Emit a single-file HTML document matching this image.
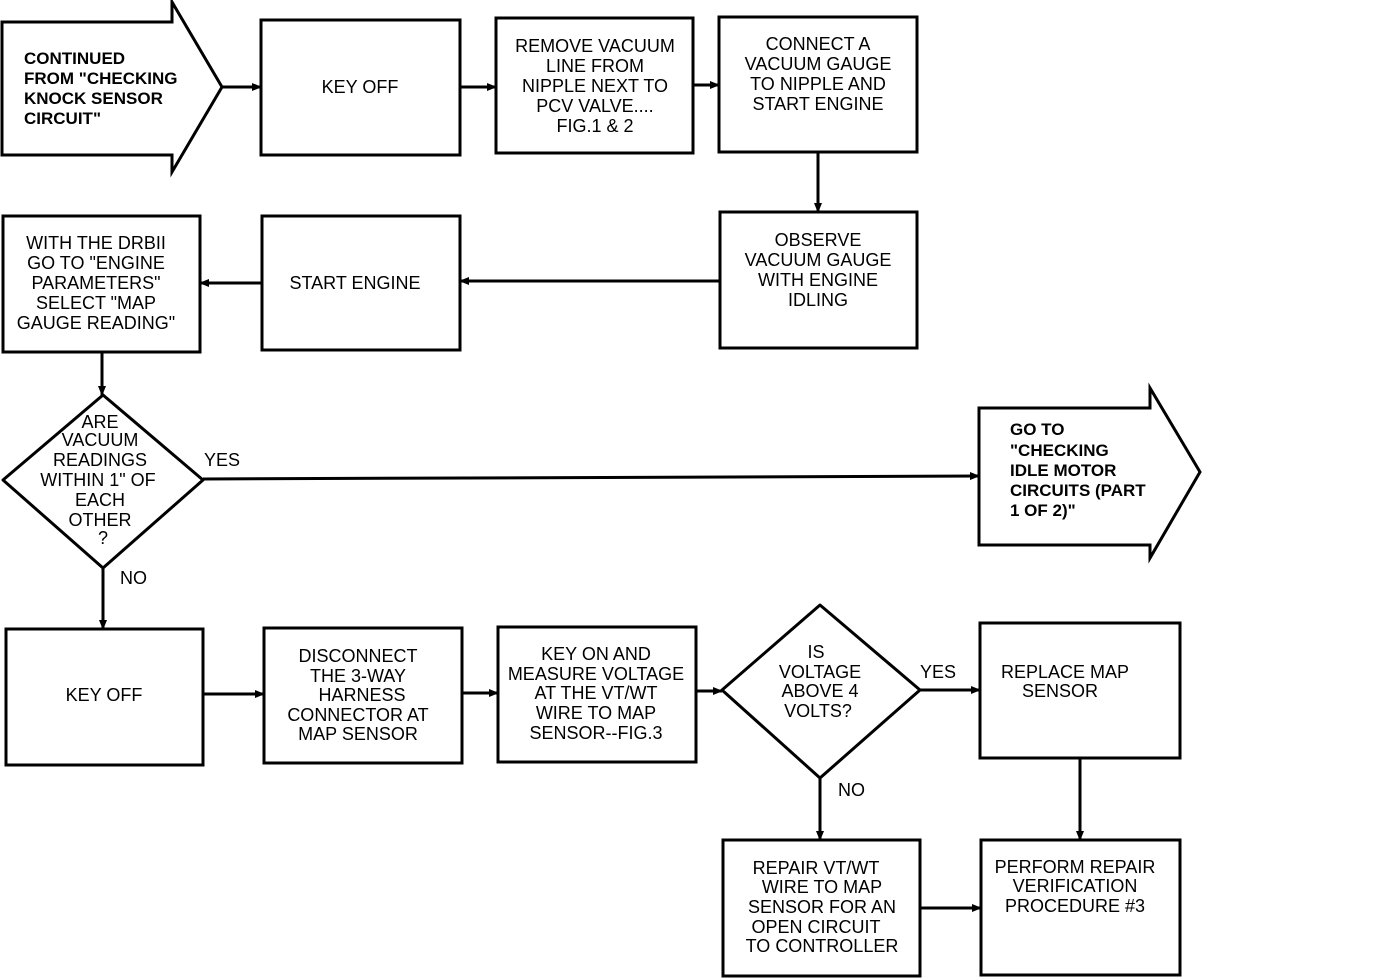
<!DOCTYPE html>
<html><head><meta charset="utf-8"><style>
html,body{margin:0;padding:0;background:#fff}
svg{display:block}
text{font-family:"Liberation Sans",sans-serif;font-size:18px;fill:#000}
.c{text-anchor:middle;font-family:"Liberation Sans",sans-serif;font-size:19px;transform-box:fill-box}
.b{font-weight:bold;font-size:17px}
</style></head><body>
<svg width="1392" height="980" viewBox="0 0 1392 980" xmlns="http://www.w3.org/2000/svg">
<defs><marker id="a" markerWidth="10" markerHeight="8" refX="9" refY="4" orient="auto" markerUnits="userSpaceOnUse"><path d="M0,0 L10,4 L0,8 z" fill="#000"/></marker></defs>
<g fill="none" stroke="#000" stroke-width="3">
<polygon points="2,22 172,22 172,2 222,87 172,172 172,155 2,155"/>
<rect x="261" y="20" width="199" height="135"/>
<rect x="496" y="18" width="197" height="135"/>
<rect x="719" y="17" width="198" height="135"/>
<rect x="720" y="212" width="197" height="136"/>
<rect x="262" y="216" width="198" height="134"/>
<rect x="3" y="216" width="197" height="136"/>
<path d="M103,395 L203,480 L103,568 L3,480 Z" stroke-linejoin="round"/>
<polygon points="979,408 1150,408 1150,388 1200,472 1150,558 1150,545 979,545"/>
<rect x="6" y="629" width="197" height="136"/>
<rect x="264" y="628" width="198" height="135"/>
<rect x="498" y="627" width="198" height="135"/>
<path d="M820,605 L920,690 L820,778 L722,690 Z" stroke-linejoin="round"/>
<rect x="980" y="623" width="200" height="135"/>
<rect x="723" y="840" width="197" height="136"/>
<rect x="981" y="840" width="199" height="135"/>
</g>
<g stroke="#000" stroke-width="3" marker-end="url(#a)">
<line x1="222" y1="87" x2="261" y2="87"/>
<line x1="460" y1="87" x2="496" y2="87"/>
<line x1="693" y1="85" x2="719" y2="85"/>
<line x1="818" y1="152" x2="818" y2="212"/>
<line x1="720" y1="281" x2="460" y2="281"/>
<line x1="262" y1="283" x2="200" y2="283"/>
<line x1="102" y1="352" x2="102" y2="395"/>
<line x1="203" y1="479" x2="979" y2="476"/>
<line x1="103" y1="568" x2="103" y2="629"/>
<line x1="203" y1="694" x2="264" y2="694"/>
<line x1="462" y1="693" x2="498" y2="693"/>
<line x1="696" y1="691" x2="722" y2="691"/>
<line x1="920" y1="690" x2="980" y2="690"/>
<line x1="820" y1="778" x2="820" y2="840"/>
<line x1="1080" y1="758" x2="1080" y2="840"/>
<line x1="920" y1="908" x2="981" y2="908"/>
</g>
<g class="b">
<text x="24" y="64" class="b">CONTINUED</text>
<text x="24" y="84" class="b">FROM "CHECKING</text>
<text x="24" y="104" class="b">KNOCK SENSOR</text>
<text x="24" y="124" class="b">CIRCUIT"</text>
<text x="1010" y="435" class="b">GO TO</text>
<text x="1010" y="456" class="b">"CHECKING</text>
<text x="1010" y="476" class="b">IDLE MOTOR</text>
<text x="1010" y="496" class="b">CIRCUITS (PART</text>
<text x="1010" y="516" class="b">1 OF 2)"</text>
</g>
<g text-anchor="middle">
<text x="360" y="93">KEY OFF</text>
<text x="595" y="52">REMOVE VACUUM</text><text x="595" y="72">LINE FROM</text><text x="595" y="92">NIPPLE NEXT TO</text><text x="595" y="112">PCV VALVE....</text><text x="595" y="132">FIG.1 &amp; 2</text>
<text x="818" y="50">CONNECT A</text><text x="818" y="70">VACUUM GAUGE</text><text x="818" y="90">TO NIPPLE AND</text><text x="818" y="110">START ENGINE</text>
<text x="818" y="246">OBSERVE</text><text x="818" y="266">VACUUM GAUGE</text><text x="818" y="286">WITH ENGINE</text><text x="818" y="306">IDLING</text>
<text x="355" y="289">START ENGINE</text>
<text x="96" y="249">WITH THE DRBII</text><text x="96" y="269">GO TO "ENGINE</text><text x="96" y="289">PARAMETERS"</text><text x="96" y="309">SELECT "MAP</text><text x="96" y="329">GAUGE READING"</text>
<text x="100" y="428">ARE</text><text x="100" y="446">VACUUM</text><text x="100" y="466">READINGS</text><text x="98" y="486">WITHIN 1" OF</text><text x="100" y="506">EACH</text><text x="100" y="526">OTHER</text><text x="103" y="544">?</text>
<text x="104" y="701">KEY OFF</text>
<text x="358" y="662">DISCONNECT</text><text x="358" y="682">THE 3-WAY</text><text x="362" y="701">HARNESS</text><text x="358" y="721">CONNECTOR AT</text><text x="358" y="740">MAP SENSOR</text>
<text x="596" y="660">KEY ON AND</text><text x="596" y="680">MEASURE VOLTAGE</text><text x="596" y="699">AT THE VT/WT</text><text x="596" y="719">WIRE TO MAP</text><text x="596" y="739">SENSOR--FIG.3</text>
<text x="816" y="658">IS</text><text x="820" y="678">VOLTAGE</text><text x="820" y="697">ABOVE 4</text><text x="818" y="717">VOLTS?</text>
<text x="1065" y="678">REPLACE MAP</text><text x="1060" y="697">SENSOR</text>
<text x="816" y="874">REPAIR VT/WT</text><text x="822" y="893">WIRE TO MAP</text><text x="822" y="913">SENSOR FOR AN</text><text x="816" y="933">OPEN CIRCUIT</text><text x="822" y="952">TO CONTROLLER</text>
<text x="1075" y="873">PERFORM REPAIR</text><text x="1075" y="892">VERIFICATION</text><text x="1075" y="912">PROCEDURE #3</text>
</g>
<text x="204" y="466">YES</text>
<text x="120" y="584">NO</text>
<text x="920" y="678">YES</text>
<text x="838" y="796">NO</text>
</svg>
</body></html>
